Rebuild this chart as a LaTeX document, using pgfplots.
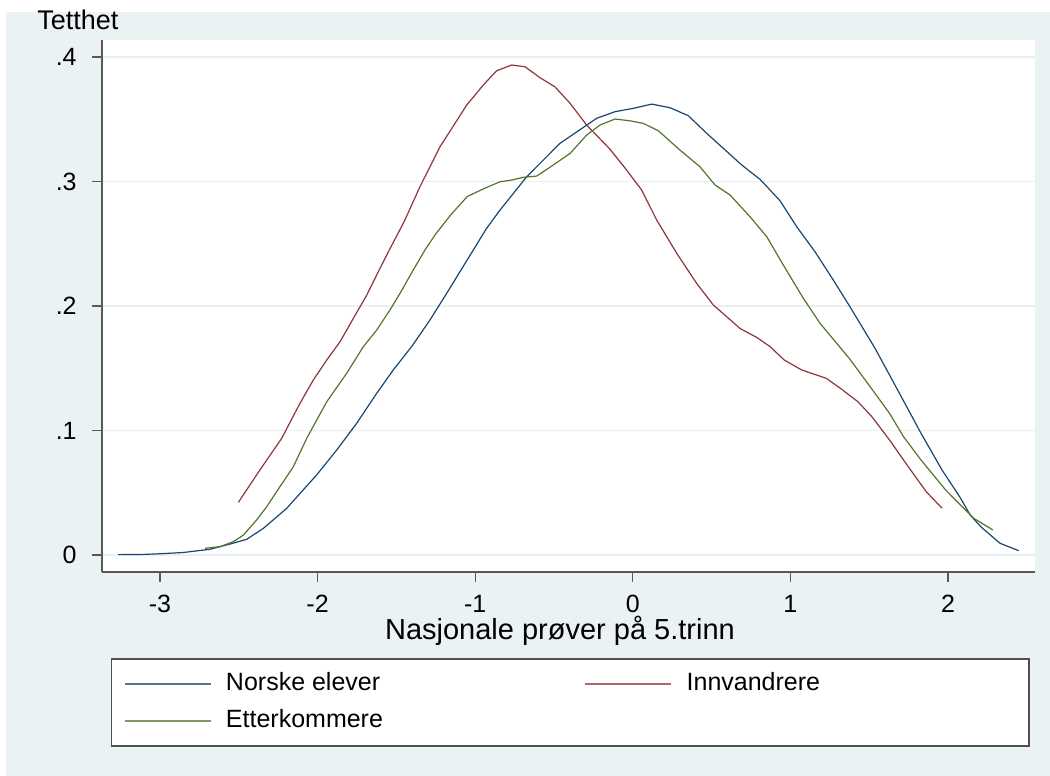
\documentclass[border=0pt]{standalone}
\usepackage{fontspec}
\setmainfont{Liberation Sans}
\usepackage{pgfplots}
\pgfplotsset{compat=1.18}
\definecolor{bg}{RGB}{234,242,243}
\definecolor{gridc}{RGB}{232,240,242}
\definecolor{snavy}{RGB}{26,71,111}
\definecolor{smaroon}{RGB}{144,53,59}
\definecolor{sgreen}{RGB}{85,117,47}
\definecolor{frame}{RGB}{80,80,80}
\newcommand{\tf}{\fontsize{12.5}{15}\selectfont}
\begin{document}
\begin{tikzpicture}
\useasboundingbox (0pt,0pt) rectangle (525pt,388pt);
\fill[white] (0pt,0pt) rectangle (525pt,388pt);
\fill[bg] (3pt,0pt) rectangle (525pt,382pt);
\begin{axis}[
  at={(51pt,102pt)}, anchor=south west,
  scale only axis, width=466.5pt, height=266pt,
  xmin=-3.368, xmax=2.552, ymin=-0.01365, ymax=0.4137,
  axis x line*=bottom, axis y line*=left,
  axis line style={-, black!65, line width=0.8pt},
  axis background/.style={fill=white},
  xtick={-3,-2,-1,0,1,2}, xticklabels={-3,-2,-1,0,1,2},
  ytick={0,0.1,0.2,0.3,0.4}, yticklabels={0,.1,.2,.3,.4},
  tick align=outside, major tick length=5pt,
  tick style={black!65, line width=0.6pt},
  ymajorgrids, grid style={gridc, line width=0.8pt},
  tick label style={font=\tf, inner sep=0pt},
  xticklabel style={anchor=north, yshift=-6.5pt},
  yticklabel style={anchor=east, xshift=-7.5pt},
  legend columns=2,
  legend style={at={(0.00932,-0.1617)}, anchor=north west,
    draw=frame, fill=white, line width=0.8pt,
    inner xsep=6.15pt, inner ysep=6.5pt, row sep=6.5pt, column sep=0pt,
    nodes={inner sep=0pt, text height=9.25pt, text depth=2.75pt, font=\tf, anchor=west}},
]
\addlegendimage{legend image code/.code={\draw[draw=snavy!75, line width=0.9pt] (0pt,0pt) -- (43pt,0pt); \path (50.25pt,0pt);}}
\addlegendentry{\makebox[179.25pt][l]{Norske elever}}
\addlegendimage{legend image code/.code={\draw[draw=smaroon!75, line width=0.9pt] (0pt,0pt) -- (43pt,0pt); \path (50.25pt,0pt);}}
\addlegendentry{\makebox[164.85pt][l]{Innvandrere}}
\addlegendimage{legend image code/.code={\draw[draw=sgreen!75, line width=0.9pt] (0pt,0pt) -- (43pt,0pt); \path (50.25pt,0pt);}}
\addlegendentry{\makebox[179.25pt][l]{Etterkommere}}
\addplot[color=snavy, line width=0.6pt, forget plot] coordinates {
(-3.265,0.0003) (-3.1,0.0005) (-3.0,0.001) (-2.853,0.002) (-2.683,0.0046) (-2.55,0.009) (-2.45,0.0126) (-2.344,0.0214) (-2.196,0.0375) (-2.006,0.0643) (-1.879,0.0843) (-1.752,0.1058) (-1.625,0.1299) (-1.520,0.1486) (-1.40,0.168) (-1.287,0.1888) (-1.181,0.2102) (-1.012,0.245) (-0.93,0.262) (-0.843,0.277) (-0.673,0.3039) (-0.462,0.3307) (-0.229,0.3508) (-0.113,0.3561) (0.003,0.3588) (0.120,0.3622) (0.236,0.3593) (0.352,0.3529) (0.469,0.3387) (0.574,0.3267) (0.691,0.3133) (0.807,0.3018) (0.934,0.2846) (1.040,0.2637) (1.156,0.2436) (1.272,0.2209) (1.378,0.1994) (1.537,0.166) (1.629,0.1446) (1.829,0.0977) (1.962,0.0683) (2.074,0.0468) (2.141,0.0321) (2.208,0.0227) (2.330,0.0094) (2.448,0.0035)
};
\addplot[color=smaroon, line width=0.6pt, forget plot] coordinates {
(-2.503,0.0423) (-2.366,0.0683) (-2.228,0.0937) (-2.112,0.1218) (-2.027,0.1406) (-1.942,0.1566) (-1.858,0.1713) (-1.773,0.1901) (-1.688,0.2088) (-1.604,0.2303) (-1.545,0.245) (-1.45,0.268) (-1.35,0.296) (-1.223,0.328) (-1.054,0.3614) (-0.949,0.3775) (-0.864,0.389) (-0.768,0.3936) (-0.684,0.3922) (-0.589,0.3834) (-0.494,0.3761) (-0.398,0.3628) (-0.293,0.3454) (-0.145,0.3260) (-0.039,0.3092) (0.056,0.2932) (0.152,0.269) (0.279,0.2423) (0.405,0.2182) (0.511,0.2008) (0.596,0.1914) (0.680,0.182) (0.786,0.1748) (0.872,0.1673) (0.961,0.1566) (1.072,0.1486) (1.228,0.1419) (1.317,0.1339) (1.428,0.1232) (1.517,0.1111) (1.629,0.0924) (1.740,0.0723) (1.862,0.0508) (1.963,0.0375)
};
\addplot[color=sgreen, line width=0.6pt, forget plot] coordinates {
(-2.714,0.0054) (-2.619,0.0067) (-2.535,0.0107) (-2.471,0.016) (-2.387,0.0281) (-2.323,0.0388) (-2.239,0.0549) (-2.154,0.0709) (-2.069,0.0937) (-1.942,0.1231) (-1.816,0.1459) (-1.710,0.1673) (-1.625,0.1807) (-1.541,0.1968) (-1.477,0.2102) (-1.393,0.2289) (-1.319,0.245) (-1.25,0.258) (-1.15,0.274) (-1.05,0.288) (-0.95,0.294) (-0.843,0.2998) (-0.768,0.3012) (-0.695,0.3034) (-0.610,0.3044) (-0.536,0.3106) (-0.398,0.3226) (-0.293,0.3373) (-0.208,0.3454) (-0.113,0.3502) (-0.018,0.3488) (0.067,0.3467) (0.162,0.3408) (0.299,0.3253) (0.426,0.3119) (0.522,0.2972) (0.617,0.2892) (0.744,0.2717) (0.850,0.2557) (0.955,0.2329) (1.082,0.2062) (1.188,0.1861) (1.373,0.158) (1.506,0.1352) (1.629,0.1138) (1.718,0.095) (1.829,0.0763) (1.985,0.0522) (2.163,0.0295) (2.285,0.0201)
};
\end{axis}
\node[anchor=base west, inner sep=0pt, font=\fontsize{13.5}{16}\selectfont] at (18.5pt,373.25pt) {Tetthet};
\node[anchor=base, inner sep=0pt, font=\fontsize{14.5}{17}\selectfont] at (280pt,68pt) {Nasjonale prøver på 5.trinn};
\end{tikzpicture}
\end{document}
